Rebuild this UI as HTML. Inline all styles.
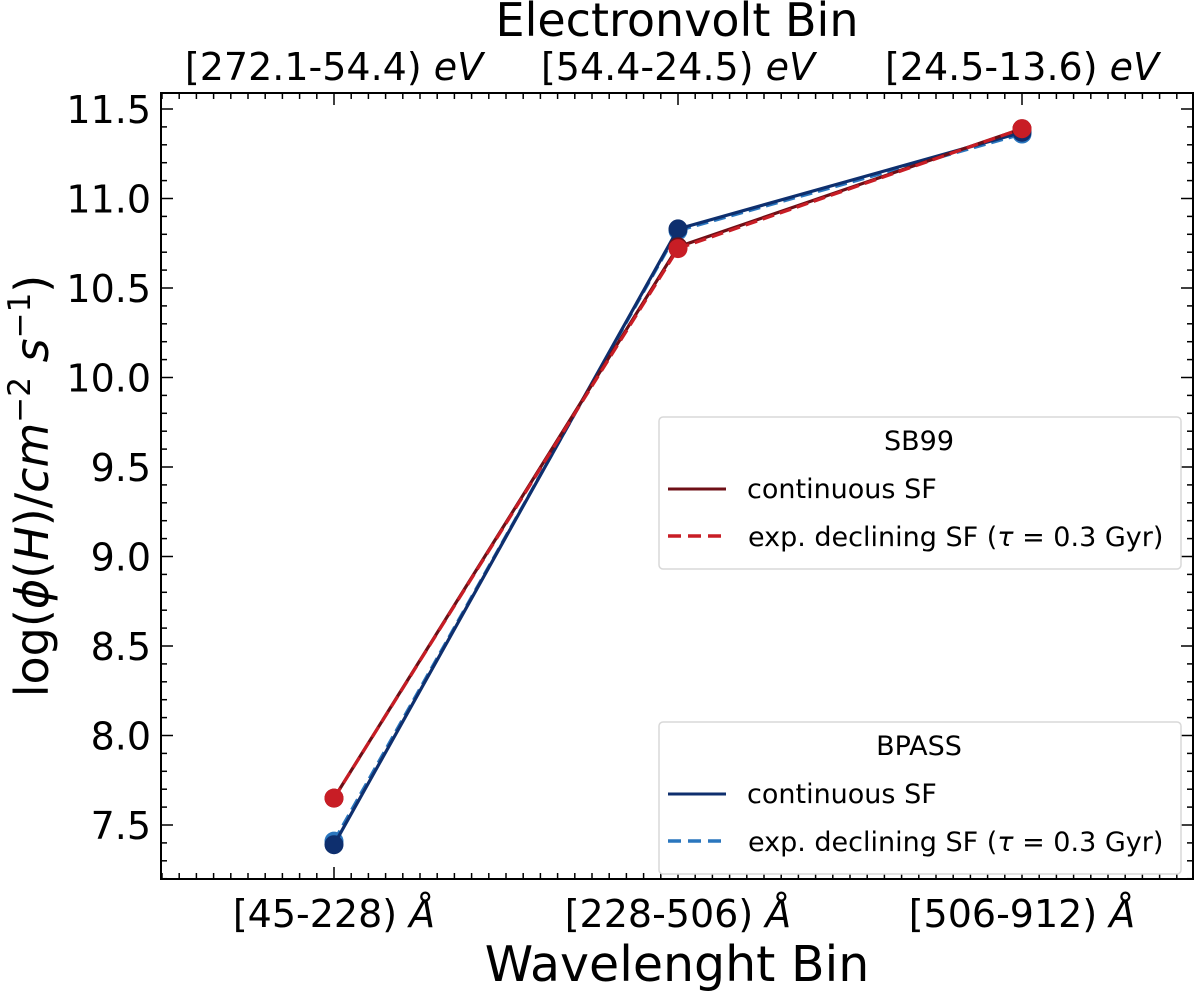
<!DOCTYPE html>
<html><head><meta charset="utf-8"><style>
body{margin:0;background:#fff}
svg{display:block;font-family:"DejaVu Sans","Liberation Sans",sans-serif}
</style></head><body>
<svg id="chart" width="1200" height="992" viewBox="0 0 1200 992">
<g id="marks"></g>
<g id="axes"></g>
</svg>
<script>
const categories = ["[45-228) ", "[228-506) ", "[506-912) "];
const evLabels = ["[272.1-54.4) ", "[54.4-24.5) ", "[24.5-13.6) "];
const sb99Cont = [7.65, 10.73, 11.39];
const sb99Exp = [7.65, 10.72, 11.39];
const bpassCont = [7.39, 10.83, 11.37];
const bpassExp = [7.41, 10.82, 11.36];
const yTicks = [7.5, 8.0, 8.5, 9.0, 9.5, 10.0, 10.5, 11.0, 11.5];

const NS = "http://www.w3.org/2000/svg";
const L = 161, R = 1193, T = 93, B = 879;
function xs(i){ return 334 + i * 344; }
function ys(v){ return 825 - (v - 7.5) * 179; }
function mk(tag, attrs, parent){ const e = document.createElementNS(NS, tag); for (const k in attrs) e.setAttribute(k, attrs[k]); parent.appendChild(e); return e; }
const marks = document.getElementById('marks');
const axes = document.getElementById('axes');

function series(vals, color, dash, name){
  const g = mk('g', {}, marks);
  
  
  const pts = vals.map((v,i)=>xs(i)+','+ys(v)).join(' ');
  const pl = mk('polyline', {points: pts, fill:'none', stroke: color, 'stroke-width': 3.2}, g);
  if (dash) pl.setAttribute('stroke-dasharray', '12,6');
  
  
  vals.forEach((v,i)=>{
    const c = mk('circle', {cx: xs(i), cy: ys(v), r: 9.5, fill: color}, g);
    
    
  });
}
series(bpassExp, '#2a76be', true, 'bpass-exp-declining');
series(bpassCont, '#0e2f6e', false, 'bpass-continuous');
series(sb99Cont, '#6e0f16', false, 'sb99-continuous');
series(sb99Exp, '#c81d25', true, 'sb99-exp-declining');

const fr = mk('rect', {x:L, y:T, width:R-L, height:B-T, fill:'none', stroke:'#000', 'stroke-width':2}, axes);



for (let k = 0; k <= 60; k++){
  const v = 7.2 + k * 0.1;
  const y = ys(v);
  if (y < T || y > B) continue;
  const major = Math.abs(v*2 - Math.round(v*2)) < 0.01;
  const len = major ? 12 : 6;
  mk('line', {x1:L, x2:L+len, y1:y, y2:y, stroke:'#000', 'stroke-width':1.5}, axes);
  mk('line', {x1:R, x2:R-len, y1:y, y2:y, stroke:'#000', 'stroke-width':1.5}, axes);
}
yTicks.forEach(v=>{
  const t = mk('text', {x:151, y:ys(v)+14, 'text-anchor':'end', 'font-size':38, fill:'#000'}, axes);
  t.textContent = v.toFixed(1);
  
  
});
for (let k = -20; k <= 60; k++){
  const x = xs(0) + k * 344 / 20;
  if (x <= L || x >= R) continue;
  const major = k % 20 === 0;
  const len = major ? 12 : 6;
  mk('line', {x1:x, x2:x, y1:B, y2:B-len, stroke:'#000', 'stroke-width':1.5}, axes);
  mk('line', {x1:x, x2:x, y1:T, y2:T+len, stroke:'#000', 'stroke-width':1.5}, axes);
}
categories.forEach((c,i)=>{
  const t = mk('text', {x:xs(i), y:927, 'text-anchor':'middle', 'font-size':38, fill:'#000'}, axes);
  t.innerHTML = c + '<tspan font-style="italic">Å</tspan>';
  
  
});
evLabels.forEach((c,i)=>{
  const t = mk('text', {x:xs(i), y:80, 'text-anchor':'middle', 'font-size':38, fill:'#000'}, axes);
  t.innerHTML = c + '<tspan font-style="italic">eV</tspan>';
  
  
});
let t = mk('text', {x:677, y:981, 'text-anchor':'middle', 'font-size':49, fill:'#000'}, axes);
t.textContent = 'Wavelenght Bin';


t = mk('text', {x:677, y:36, 'text-anchor':'middle', 'font-size':46, fill:'#000'}, axes);
t.textContent = 'Electronvolt Bin';


t = mk('text', {x:0, y:0, 'text-anchor':'middle', 'font-size':46, fill:'#000', transform:'translate(48,486) rotate(-90)'}, axes);
t.innerHTML = 'log(<tspan font-style="italic">ϕ</tspan>(<tspan font-style="italic">H</tspan>)/<tspan font-style="italic">cm</tspan><tspan font-size="31" dy="-18">−2</tspan><tspan dy="18"> </tspan><tspan font-style="italic">s</tspan><tspan font-size="31" dy="-18">−1</tspan><tspan dy="18">)</tspan>';



function legend(y0, title, c1, c2, name){
  const g = mk('g', {}, axes);
  
  
  mk('rect', {x:659, y:y0, width:522, height:152, rx:4, fill:'#fff', stroke:'#d8d8d8', 'stroke-width':1.5}, g);
  let tt = mk('text', {x:919, y:y0+33, 'text-anchor':'middle', 'font-size':27, fill:'#000'}, g);
  tt.textContent = title;
  mk('line', {x1:668, x2:726, y1:y0+72, y2:y0+72, stroke:c1, 'stroke-width':3}, g);
  mk('line', {x1:668, x2:726, y1:y0+119, y2:y0+119, stroke:c2, 'stroke-width':3.5, 'stroke-dasharray':'13,7'}, g);
  tt = mk('text', {x:747, y:y0+81, 'font-size':27, fill:'#000'}, g);
  tt.textContent = 'continuous SF';
  tt = mk('text', {x:748, y:y0+129, 'font-size':27, fill:'#000'}, g);
  tt.innerHTML = 'exp. declining SF (<tspan font-style="italic">τ</tspan> = 0.3 Gyr)';
}
legend(417, 'SB99', '#6e0f16', '#c81d25', 'legend-sb99');
legend(722, 'BPASS', '#0e2f6e', '#2a76be', 'legend-bpass');
</script>
</body></html>
